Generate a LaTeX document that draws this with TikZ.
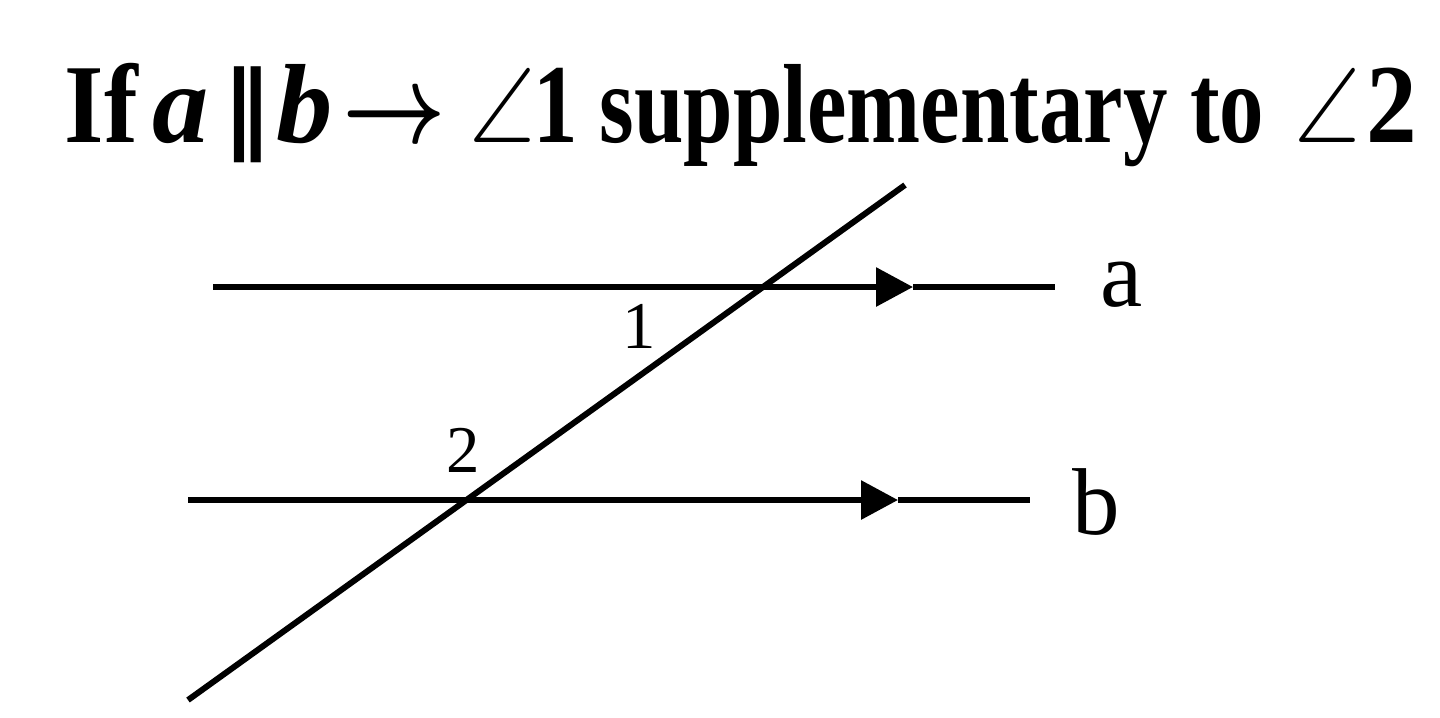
\RequirePackage{fix-cm}
\documentclass[tikz,border=0pt]{standalone}
\usepackage{amssymb}
\usepackage{fontspec}
\setmainfont{Liberation Serif}
\newfontfamily\symfont{DejaVu Sans}
\usepackage{graphicx}
\usetikzlibrary{arrows.meta}

% one piece of the title in a slot of fixed width
\newcommand{\tslot}[2]{\makebox[#1][l]{#2}}
\newcommand{\tangle}{\resizebox{0.66cm}{0.74cm}{$\angle$}}
\newcommand{\tpar}{\resizebox*{0.44cm}{0.96cm}{\symfont\bfseries ∥}}

\begin{document}
\begin{tikzpicture}[x=0.01cm, y=-0.01cm, line width=1.7pt,
    tiptri/.style={-{Triangle[length=10.5pt,width=10.8pt]}},
    linelabel/.style={font=\fontsize{27}{30}\selectfont, inner sep=0pt},
    anglabel/.style={font=\fontsize{19}{22}\selectfont, inner sep=0pt}]
  \useasboundingbox (0, 0) rectangle (1440, 717);

  % title
  \node[anchor=base west, inner sep=0pt,
        font=\fontsize{32}{36}\selectfont\bfseries] (title) at (62, 142)
    {\tslot{0.87cm}{\scalebox{0.9}[1]{If}}%
     \tslot{0.72cm}{\textit{a}}%
     \tslot{0.52cm}{\tpar}%
     \tslot{0.66cm}{\textit{b}}%
     \tslot{1.27cm}{\boldmath\scalebox{0.8}[1]{$\rightarrow$}}%
     \tslot{0.64cm}{\tangle}%
     \tslot{7.61cm}{\scalebox{0.79}[1]{1 supplementary to}}%
     \tslot{0.72cm}{\tangle}%
     \scalebox{0.9}[1]{2}};

  % parallel lines a and b
  \coordinate (a1) at (213, 287);
  \coordinate (atip) at (913, 287);
  \coordinate (a2) at (1055, 287);
  \coordinate (b1) at (188, 500);
  \coordinate (btip) at (898, 500);
  \coordinate (b2) at (1030, 500);

  \draw [tiptri] (a1) -- (atip);
  \draw (atip) -- (a2);
  \draw [tiptri] (b1) -- (btip);
  \draw (btip) -- (b2);

  \node[linelabel] (la) at (1122, 285) {a};
  \node[linelabel] (lb) at (1096, 502) {b};

  % transversal
  \coordinate (t1) at (188, 700);
  \coordinate (t2) at (905, 185);
  \draw (t1) -- (t2);

  \node[anglabel] (one) at (639, 326) {1};
  \node[anglabel] (two) at (463, 450) {2};
\end{tikzpicture}
\end{document}
